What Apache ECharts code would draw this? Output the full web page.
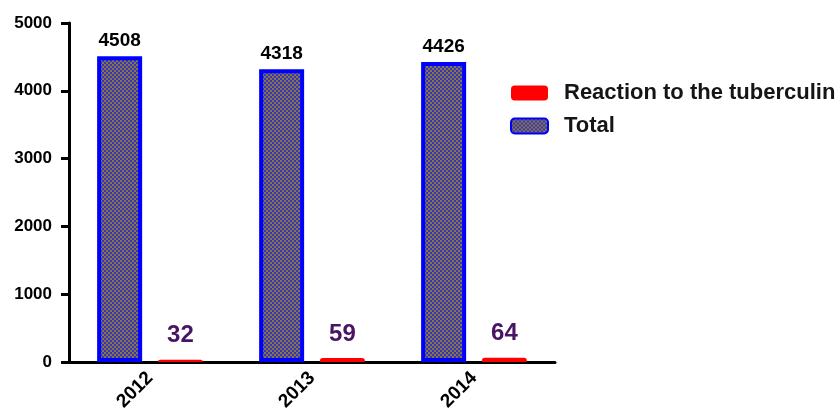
<!DOCTYPE html>
<html><head><meta charset="utf-8">
<script src="https://cdn.jsdelivr.net/npm/echarts@6/dist/echarts.min.js"></script>
<style>html,body{margin:0;padding:0;background:#fff}#c{width:840px;height:412px}</style>
</head><body><div id="c"></div>
<script>
const categories = ['2012', '2013', '2014'];
const totalValues = [4508, 4318, 4426];
const reactionValues = [32, 59, 64];
const yTicks = [0, 1000, 2000, 3000, 4000, 5000];
const seriesNames = ['Reaction to the tuberculin', 'Total'];

function checker() {
  const c = document.createElement('canvas');
  c.width = 4; c.height = 4;
  const g = c.getContext('2d');
  g.fillStyle = '#3434c8'; g.fillRect(0, 0, 4, 4);
  g.fillStyle = '#8a7636';
  g.fillRect(0, 0, 2, 2); g.fillRect(2, 2, 2, 2);
  return c;
}
const font = 'Liberation Sans, Arial, sans-serif';
const chart = echarts.init(document.getElementById('c'), null, {renderer: 'canvas'});
chart.setOption({
  animation: false,
  backgroundColor: '#fff',
  grid: {left: 69, right: 285, top: 23, bottom: 50, containLabel: false, outerBoundsMode: 'none'},
  legend: {
    data: seriesNames,
    orient: 'vertical',
    left: 505, top: 77,
    itemWidth: 37, itemHeight: 15, itemGap: 11,
    icon: 'roundRect',
    textStyle: {fontFamily: font, fontWeight: 'bold', fontSize: 22, lineHeight: 22, color: '#151515', padding: [0, 0, 0, 11]}
  },
  xAxis: {
    type: 'category', data: categories,
    axisLine: {lineStyle: {color: '#000', width: 3}},
    axisTick: {alignWithLabel: true, length: 8, lineStyle: {color: '#000', width: 3}},
    axisLabel: {rotate: 45, margin: 13, fontFamily: font, fontWeight: 'bold', fontSize: 19, color: '#000'}
  },
  yAxis: {
    type: 'value', min: yTicks[0], max: yTicks[yTicks.length - 1], interval: 1000,
    splitLine: {show: false},
    axisLine: {show: true, lineStyle: {color: '#000', width: 3}},
    axisTick: {show: true, length: 8, lineStyle: {color: '#000', width: 3}},
    axisLabel: {margin: 17, formatter: v => String(v), fontFamily: font, fontWeight: 'bold', fontSize: 17, color: '#000'}
  },
  series: [
    {
      name: seriesNames[1], type: 'bar', data: totalValues,
      barWidth: 45, barGap: '35%',
      itemStyle: {color: {image: checker(), repeat: 'repeat'}, borderColor: '#0000ff', borderWidth: 4},
      label: {show: true, position: 'top', distance: 6, fontFamily: font, fontWeight: 'bold', fontSize: 19, color: '#000'}
    },
    {
      name: seriesNames[0], type: 'bar', data: reactionValues,
      barWidth: 45,
      itemStyle: {color: '#ff0000', borderRadius: [3, 3, 0, 0]},
      label: {show: true, position: 'top', distance: 12, fontFamily: font, fontWeight: 'bold', fontSize: 24, color: '#4a1464'}
    }
  ]
});
</script></body></html>
